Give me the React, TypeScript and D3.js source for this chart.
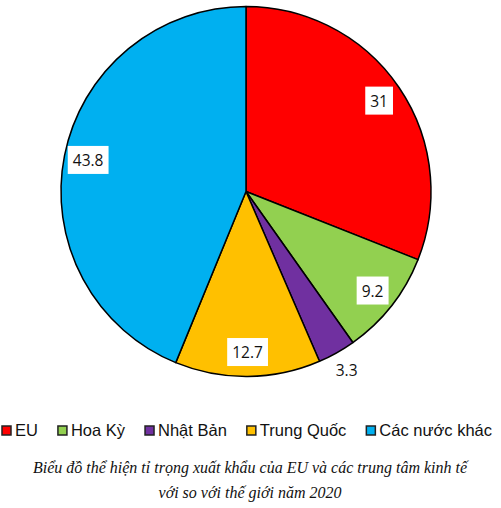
import React, { useEffect, useRef } from "react";
import * as d3 from "d3";

const categories = ["EU", "Hoa Kỳ", "Nhật Bản", "Trung Quốc", "Các nước khác"];
const values = [31, 9.2, 3.3, 12.7, 43.8];
const colors = ["#FF0000", "#92D050", "#7030A0", "#FFC000", "#00B0F0"];
const captionLines = [
  "Biểu đồ thể hiện tỉ trọng xuất khẩu của EU và các trung tâm kinh tế",
  "với so với thế giới năm 2020",
];

const W = 501;
const H = 508;

export default function App() {
  const ref = useRef<SVGSVGElement>(null);

  useEffect(() => {
    const svg = d3.select(ref.current);
    svg.selectAll("*").remove();

    const cx = 246;
    const cy = 191.5;
    const R = 185;

    const data = categories.map((c, i) => ({ c, v: values[i], col: colors[i] }));
    const pie = d3.pie<any>().sort(null).value((d) => d.v);
    const arcs = pie(data);
    const arc = d3.arc<any>().innerRadius(0).outerRadius(R);
    const labelArc = d3.arc<any>().innerRadius(R * 0.87).outerRadius(R * 0.87);
    const outArc = d3.arc<any>().innerRadius(R * 1.11).outerRadius(R * 1.11);

    const g = svg.append("g").attr("transform", `translate(${cx},${cy})`);
    g.selectAll("path.slice")
      .data(arcs)
      .join("path")
      .attr("class", "slice")
      .attr("d", arc)
      .attr("fill", (d: any) => d.data.col)
      .attr("stroke", "#000")
      .attr("stroke-width", 1.5)
      .attr("stroke-linejoin", "round");

    arcs.forEach((a: any) => {
      const outside = a.data.v < 5;
      const [x, y] = (outside ? outArc : labelArc).centroid(a);
      const lg = g.append("g").attr("transform", `translate(${x},${y})`);
      const rect = lg.append("rect").attr("fill", outside ? "none" : "#fff");
      const t = lg
        .append("text")
        .attr("text-anchor", "middle")
        .attr("dy", "0.36em")
        .attr("font-family", "'Open Sans', sans-serif")
        .attr("font-size", 15.5)
        .attr("fill", "#111")
        .text(String(a.data.v));
      const bb = (t.node() as SVGTextElement).getBBox();
      const pw = 5;
      const ph = 3;
      rect
        .attr("x", bb.x - pw)
        .attr("y", bb.y - ph)
        .attr("width", bb.width + 2 * pw)
        .attr("height", bb.height + 2 * ph);
    });

    // legend
    const leg = svg.append("g");
    const sq = 9;
    const gap = 20;
    let x = 0;
    data.forEach((d) => {
      const it = leg.append("g");
      it.append("rect")
        .attr("x", 0)
        .attr("y", -10)
        .attr("width", sq)
        .attr("height", sq)
        .attr("fill", d.col)
        .attr("stroke", "#222")
        .attr("stroke-width", 1.5);
      const t = it
        .append("text")
        .attr("x", sq + 4)
        .attr("y", 0)
        .attr("font-family", "'Liberation Sans', Arial, sans-serif")
        .attr("font-size", 16.5)
        .attr("fill", "#111")
        .text(d.c);
      const w = sq + 4 + (t.node() as SVGTextElement).getComputedTextLength();
      it.attr("transform", `translate(${x},436)`);
      x += w + gap;
    });
    const total = x - gap;
    leg.attr("transform", `translate(${247 - total / 2},0)`);

    // caption
    captionLines.forEach((line, i) => {
      svg
        .append("text")
        .attr("x", 250)
        .attr("y", 473 + i * 25)
        .attr("text-anchor", "middle")
        .attr("font-family", "'Liberation Serif', 'Times New Roman', serif")
        .attr("font-style", "italic")
        .attr("font-size", 16)
        .attr("fill", "#111")
        .text(line);
    });
  }, []);

  return (
    <svg
      ref={ref}
      width={W}
      height={H}
      style={{ position: "absolute", left: 0, top: 0, background: "#fff" }}
    />
  );
}
